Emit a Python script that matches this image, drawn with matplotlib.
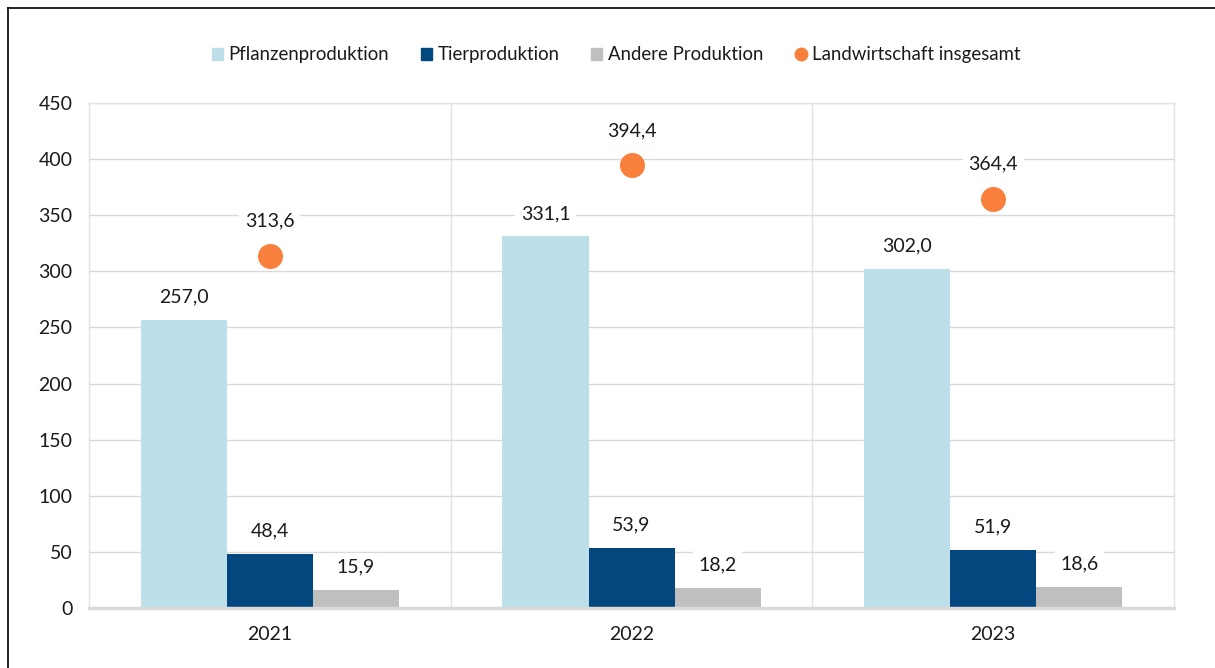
import numpy as np
import matplotlib.pyplot as plt
from matplotlib.lines import Line2D
from matplotlib.patches import Patch

plt.rcParams['font.family'] = ['Lato', 'DejaVu Sans']

years = ["2021", "2022", "2023"]
pflanzen = [257.0, 331.1, 302.0]
tier = [48.4, 53.9, 51.9]
andere = [15.9, 18.2, 18.6]
gesamt = [313.6, 394.4, 364.4]

c_pfl = "#bddfea"
c_tier = "#03477f"
c_and = "#bfbfbf"
c_ges = "#f9803c"
txt = "#1a1a1a"

def fmt(v):
    return ("%.1f" % v).replace(".", ",")

fig = plt.figure(figsize=(12.15, 6.68), dpi=100)
ax = fig.add_axes([0.0733, 0.0898, 0.893, 0.756])

x = np.arange(len(years))
w = 0.238
series = [(pflanzen, c_pfl, -w), (tier, c_tier, 0), (andere, c_and, w)]
for vals, col, off in series:
    ax.bar(x + off, vals, width=w, color=col, zorder=2)
    for xi, v in zip(x, vals):
        ax.text(xi + off, v + 20.5, fmt(v), ha="center", va="center", fontsize=14,
                color=txt, zorder=4,
                bbox=dict(facecolor="white", edgecolor="none", pad=4))

ax.plot(x, gesamt, "o", color=c_ges, markersize=17, zorder=3, linestyle="none")
for xi, v in zip(x, gesamt):
    ax.text(xi, v + 31, fmt(v), ha="center", va="center", fontsize=14,
            color=txt, zorder=4,
            bbox=dict(facecolor="white", edgecolor="none", pad=4))

ax.set_xlim(-0.5, 2.5)
ax.set_ylim(0, 450)
ax.set_yticks(range(0, 451, 50))
ax.set_xticks(x)
ax.set_xticklabels(years)
ax.tick_params(axis="both", length=0, labelsize=14, colors=txt)
ax.tick_params(axis="x", pad=13)
ax.tick_params(axis="y", pad=12)
ax.grid(axis="y", color="#d9d9d9", linewidth=1, zorder=0)
for xv in [0.5, 1.5]:
    ax.axvline(xv, color="#e3e3e3", linewidth=1, zorder=0)
for s in ["top", "right", "left"]:
    ax.spines[s].set_color("#e3e3e3")
    ax.spines[s].set_linewidth(1)
ax.spines["bottom"].set_color("#d9d9d9")
ax.spines["bottom"].set_linewidth(2.5)

handles = [Patch(color=c_pfl), Patch(color=c_tier), Patch(color=c_and),
           Line2D([], [], marker="o", color=c_ges, linestyle="none", markersize=9)]
labels = ["Pflanzenproduktion", "Tierproduktion", "Andere Produktion", "Landwirtschaft insgesamt"]
fig.legend(handles, labels, loc="center", bbox_to_anchor=(0.507, 0.918), ncol=4,
           frameon=False, fontsize=13.4, handlelength=0.6, handleheight=0.6,
           handletextpad=0.3, columnspacing=1.7, labelcolor=txt)

# frame lines at top and left
fig.add_artist(Line2D([0.0066, 0.0066], [0, 0.988], color="black", linewidth=1.2))
fig.add_artist(Line2D([0.0066, 1.0], [0.988, 0.988], color="black", linewidth=1.2))

fig.savefig("out.png", dpi=100)
